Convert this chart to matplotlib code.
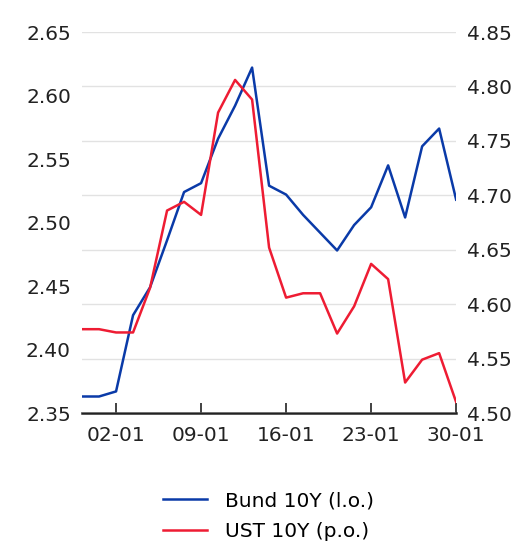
import matplotlib
matplotlib.use("Agg")
import matplotlib.pyplot as plt

# ── data ────────────────────────────────────────────────────────────
dates = [
    "30-12", "31-12", "02-01", "03-01", "06-01", "07-01", "08-01", "09-01",
    "10-01", "13-01", "14-01", "15-01", "16-01", "17-01", "20-01", "21-01",
    "22-01", "23-01", "24-01", "27-01", "28-01", "29-01", "30-01",
]
bund_10y = [
    2.363, 2.363, 2.367, 2.427, 2.449, 2.486, 2.524, 2.531,
    2.566, 2.592, 2.622, 2.529, 2.522, 2.506, 2.492, 2.478,
    2.498, 2.512, 2.545, 2.504, 2.560, 2.574, 2.518,
]
ust_10y = [
    4.577, 4.577, 4.574, 4.574, 4.615, 4.686, 4.694, 4.682,
    4.776, 4.806, 4.788, 4.652, 4.606, 4.610, 4.610, 4.573,
    4.598, 4.637, 4.623, 4.528, 4.549, 4.555, 4.510,
]
tick_idx = [2, 7, 12, 17, 22]
left_ticks = [2.35, 2.40, 2.45, 2.50, 2.55, 2.60, 2.65]
right_ticks = [4.50, 4.55, 4.60, 4.65, 4.70, 4.75, 4.80, 4.85]

BLUE = "#0a3aa8"
RED = "#ee1c33"

plt.rcParams["font.family"] = "DejaVu Sans"
plt.rcParams["font.size"] = 14.5

fig = plt.figure(figsize=(5.16, 5.43), dpi=100)
ax = fig.add_axes([0.159, 0.2394, 0.725, 0.7016])
ax2 = ax.twinx()

x = list(range(len(dates)))

# gridlines belong to the right-hand scale
ax2.set_ylim(4.50, 4.85)
ax2.set_yticks(right_ticks)
ax2.set_yticklabels([f"{v:.2f}" for v in right_ticks])
ax2.grid(axis="y", color="#e2e2e2", linewidth=1.0)
ax2.set_axisbelow(True)

ax.set_ylim(2.35, 2.65)
ax.set_yticks(left_ticks)
ax.set_yticklabels([f"{v:.2f}" for v in left_ticks])
ax.set_xlim(0, len(dates) - 1)
ax.set_xticks(tick_idx)
ax.set_xticklabels([dates[i] for i in tick_idx])

l1, = ax2.plot(x, bund_10y, color=BLUE, linewidth=1.8,
               transform=ax.transData, label="Bund 10Y (l.o.)")
l2, = ax2.plot(x, ust_10y, color=RED, linewidth=1.8, label="UST 10Y (p.o.)")

for a in (ax, ax2):
    for side in ("left", "right", "top"):
        a.spines[side].set_visible(False)
ax2.spines["bottom"].set_visible(False)
ax.spines["bottom"].set_linewidth(1.8)
ax.spines["bottom"].set_color("#222222")

ax.tick_params(axis="y", length=0, pad=8, labelcolor="#222222")
ax2.tick_params(axis="y", length=0, pad=8, labelcolor="#222222")
ax.tick_params(axis="x", direction="in", length=7, width=1.2,
               color="#222222", pad=9, labelcolor="#222222")

fig.legend(handles=[l1, l2], loc="upper center", bbox_to_anchor=(0.52, 0.095),
           frameon=False, handlelength=2.2, handletextpad=0.85,
           labelspacing=0.6, borderaxespad=0, borderpad=0, fontsize=14.5)

fig.savefig("out.png", dpi=100)
